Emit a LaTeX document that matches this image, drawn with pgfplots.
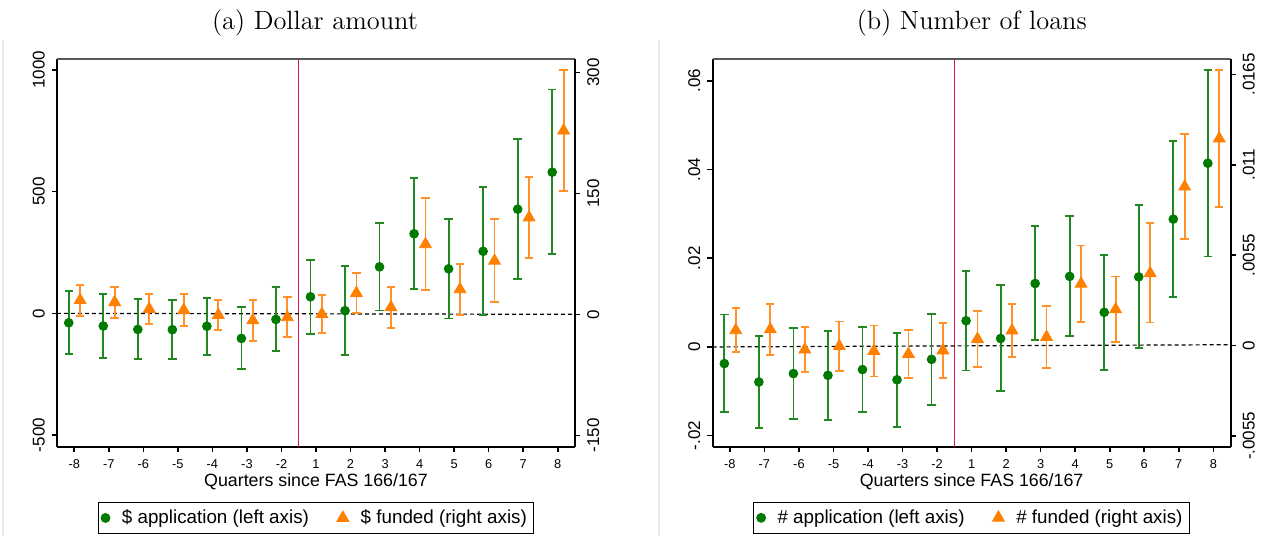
\documentclass[border=0pt]{standalone}
\usepackage{fontspec}
\newfontfamily\arial{Liberation Sans}
\usepackage{pgfplots}
\pgfplotsset{compat=1.18}
\usepackage{pgfplotstable}

\definecolor{appgreen}{RGB}{0,122,0}
\definecolor{appbar}{RGB}{34,136,34}
\definecolor{fundorange}{RGB}{255,127,0}
\definecolor{fundbar}{RGB}{255,145,40}
\definecolor{eventred}{RGB}{214,18,70}

% i = event-time index (0..14 -> -8..-2, 1..8); y = estimate; lo/hi = 95% CI
\pgfplotstableread{
i y lo hi
0 -38.6 -167 93
1 -52 -182 78
2 -66 -189 60
3 -67 -188 55
4 -53 -170 63
5 -103 -230 25
6 -25 -156 108
7 68 -84 219
8 11 -170 193
9 191 12 372
10 327 99 557
11 183 -21 387
12 255 -8 519
13 428 141 715
14 580 244 920
}\dollarapp
\pgfplotstableread{
i y lo hi
0 17.5 -2 36.7
1 15 -4.2 34.2
2 6.6 -12 25.2
3 5.3 -14.5 25.2
4 -0.9 -19.8 18.1
5 -7.5 -32.7 17.7
6 -3.7 -28.5 21
7 0.2 -23.2 23.5
8 26.4 1.2 51.6
9 8.6 -17 34.2
10 86.8 29.7 143.8
11 31 -0.5 62.4
12 66.3 14.9 117.7
13 120 70 170
14 227.7 152.5 302.9
}\dollarfund
\pgfplotstableread{
i y lo hi
0 -0.00375 -0.0147 0.0073
1 -0.0079 -0.0182 0.0025
2 -0.0060 -0.0162 0.0042
3 -0.0064 -0.0165 0.0036
4 -0.0051 -0.0147 0.0045
5 -0.0074 -0.0180 0.0032
6 -0.0028 -0.0131 0.0074
7 0.0059 -0.0053 0.0171
8 0.0019 -0.0100 0.0139
9 0.0143 0.0015 0.0272
10 0.0159 0.0024 0.0295
11 0.0078 -0.0052 0.0207
12 0.0158 -0.0002 0.0320
13 0.0288 0.0113 0.0465
14 0.0414 0.0204 0.0624
}\numapp
\pgfplotstableread{
i y lo hi
0 0.00093 -0.00041 0.00227
1 0.00098 -0.00057 0.00253
2 -0.00025 -0.00163 0.00113
3 -0.00004 -0.00155 0.00146
4 -0.00033 -0.00189 0.00122
5 -0.00052 -0.00197 0.00093
6 -0.0003 -0.00199 0.00138
7 0.0004 -0.00132 0.00211
8 0.00091 -0.00069 0.00252
9 0.00052 -0.00136 0.00239
10 0.00376 0.00142 0.00609
11 0.0022 0.00022 0.0042
12 0.0044 0.0014 0.00745
13 0.00967 0.00647 0.01287
14 0.0126 0.00844 0.01677
}\numfund

\pgfplotsset{
  stata/.style={
    scale only axis, width=259pt, height=194pt, anchor=south west,
    xmin=-0.5, xmax=14.5,
    scaled y ticks=false,
    tick align=outside, major tick length=2.6pt,
    every tick/.style={black, line width=0.8pt},
    axis line style={black, line width=0.9pt},
    yticklabel style={rotate=90, font=\arial\fontsize{8.5}{9}\selectfont},
    xticklabel style={font=\arial\fontsize{6.4}{7}\selectfont},
  },
  leftside/.style={
    stata,
    axis x line*=bottom, axis y line*=left,
    xtick={0,...,14},
    xticklabels={-8,-7,-6,-5,-4,-3,-2,1,2,3,4,5,6,7,8},
    yticklabel style={anchor=south},
    xlabel={Quarters since FAS 166/167},
    xlabel style={font=\arial\fontsize{8.9}{10}\selectfont,
      at={(axis description cs:0.5,0)}, anchor=center, yshift=-17.5pt},
    legend style={at={(0.5,-0.1418)}, anchor=north, legend columns=2,
      draw=black, line width=0.5pt, inner xsep=1.5pt, inner ysep=1.5pt,
      font=\arial\fontsize{9.4}{10}\selectfont,
      /tikz/every odd column/.append style={column sep=4pt},
      /tikz/every even column/.append style={column sep=12pt}},
  },
  rightside/.style={
    stata,
    axis x line=none, axis y line*=right,
    xtick=\empty,
    yticklabel style={anchor=north},
  },
  ci/.style={
    error bars/.cd, y dir=both, y explicit,
    error bar style={line width=0.9pt, color=#1},
    error mark options={rotate=90, mark size=2.1pt, line width=0.9pt, color=#1},
  },
  appmark/.style={only marks, mark=*, mark size=2.2pt, color=appgreen},
  fundmark/.style={only marks, mark=triangle*, mark size=3.4pt, color=fundorange},
}

\begin{document}
\begin{tikzpicture}
\path[use as bounding box] (0,0) rectangle (632.5pt,268pt);

\draw[gray!18, line width=0.6pt] (1.5pt,0) -- (1.5pt,248pt);
\draw[gray!18, line width=0.6pt] (329.5pt,0) -- (329.5pt,248pt);

\node[font=\fontsize{13.2}{15}\selectfont] at (157.5pt,256.5pt) {(a) Dollar amount};
\node[font=\fontsize{13.2}{15}\selectfont] at (485.9pt,256.5pt) {(b) Number of loans};

% ---- (a) Dollar amount ----
\begin{axis}[leftside, at={(28.5pt,44.5pt)},
  ymin=-549, ymax=1045,
  ytick={-500,0,500,1000}, yticklabels={-500,0,500,1000}]
  \addplot[forget plot, eventred, line width=0.7pt] coordinates {(6.5,-549) (6.5,1045)};
  \addplot[forget plot, black, line width=0.6pt, dash pattern=on 2pt off 1.5pt] coordinates {(-0.5,0) (14.5,-4)};
  \draw[gray!70!black, line width=0.8pt] (rel axis cs:0,1) -- (rel axis cs:1,1);
  \addplot[appmark, ci=appbar] table[x expr=\thisrow{i}-0.16, y=y,
    y error plus expr=\thisrow{hi}-\thisrow{y},
    y error minus expr=\thisrow{y}-\thisrow{lo}] {\dollarapp};
  \addlegendentry{\$ application (left axis)}
  \addlegendimage{fundmark}
  \addlegendentry{\$ funded (right axis)}
\end{axis}
\begin{axis}[rightside, at={(28.5pt,44.5pt)},
  ymin=-164.5, ymax=316.5,
  ytick={-150,0,150,300}, yticklabels={-150,0,150,300}]
  \addplot[fundmark, ci=fundbar] table[x expr=\thisrow{i}+0.17, y=y,
    y error plus expr=\thisrow{hi}-\thisrow{y},
    y error minus expr=\thisrow{y}-\thisrow{lo}] {\dollarfund};
\end{axis}

% ---- (b) Number of loans ----
\begin{axis}[leftside, at={(356.3pt,44.5pt)},
  ymin=-0.02255, ymax=0.0649,
  ytick={-0.02,0,0.02,0.04,0.06}, yticklabels={-.02,0,.02,.04,.06}]
  \addplot[forget plot, eventred, line width=0.7pt] coordinates {(6.5,-0.02255) (6.5,0.0649)};
  \addplot[forget plot, black, line width=0.6pt, dash pattern=on 2pt off 1.5pt] coordinates {(-0.5,0) (14.5,0.0005)};
  \draw[gray!70!black, line width=0.8pt] (rel axis cs:0,1) -- (rel axis cs:1,1);
  \addplot[appmark, ci=appbar] table[x expr=\thisrow{i}-0.16, y=y,
    y error plus expr=\thisrow{hi}-\thisrow{y},
    y error minus expr=\thisrow{y}-\thisrow{lo}] {\numapp};
  \addlegendentry{\# application (left axis)}
  \addlegendimage{fundmark}
  \addlegendentry{\# funded (right axis)}
\end{axis}
\begin{axis}[rightside, at={(356.3pt,44.5pt)},
  ymin=-0.006176, ymax=0.01744,
  ytick={-0.0055,0,0.0055,0.011,0.0165}, yticklabels={-.0055,0,.0055,.011,.0165}]
  \addplot[fundmark, ci=fundbar] table[x expr=\thisrow{i}+0.17, y=y,
    y error plus expr=\thisrow{hi}-\thisrow{y},
    y error minus expr=\thisrow{y}-\thisrow{lo}] {\numfund};
\end{axis}
\end{tikzpicture}
\end{document}
